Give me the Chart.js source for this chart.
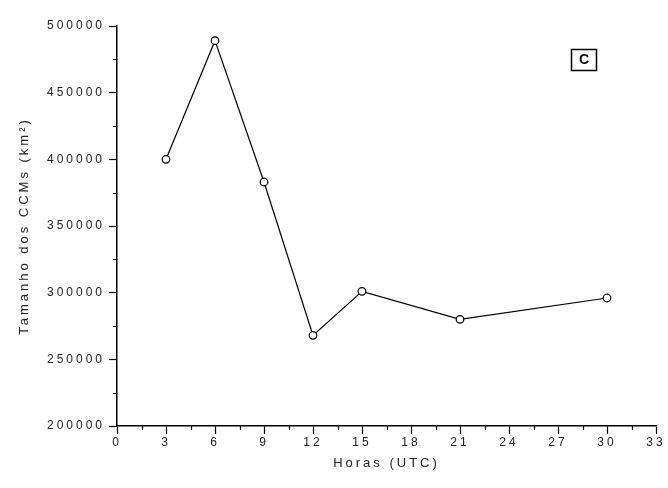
<!DOCTYPE html>
<html>
<head>
<meta charset="utf-8">
<script src="https://cdn.jsdelivr.net/npm/chart.js@4.4.0/dist/chart.umd.min.js"></script>
<style>
  html, body { margin: 0; padding: 0; background: #fff; }
  canvas { display: block; }
</style>
</head>
<body>
<canvas id="grafico" width="668" height="488"></canvas>
<script>
// dados
const horas = [3, 6, 9, 12, 15, 21, 30];
const tamanho = [400000, 489000, 383000, 268000, 301000, 280000, 296000];
const rotuloPainel = 'C';

const ESPACO = '3px';

const espacamento = {
    id: 'espacamento',
    beforeUpdate(chart) { chart.ctx.letterSpacing = ESPACO; },
    beforeLayout(chart) { chart.ctx.letterSpacing = ESPACO; },
    beforeDraw(chart) { chart.ctx.letterSpacing = ESPACO; }
};

// ticks menores + caixa com a letra do painel
const extras = {
    id: 'extras',
    afterDraw(chart) {
        const ctx = chart.ctx;
        const xs = chart.scales.x;
        const ys = chart.scales.y;
        const area = chart.chartArea;
        ctx.save();
        ctx.strokeStyle = '#000';
        ctx.lineWidth = 1.2;
        ctx.beginPath();
        for (let v = 1.5; v < 33; v += 3) {
            const px = Math.round(xs.getPixelForValue(v)) + 0.5;
            ctx.moveTo(px, area.bottom);
            ctx.lineTo(px, area.bottom + 4);
        }
        for (let v = 225000; v < 500000; v += 50000) {
            const py = Math.round(ys.getPixelForValue(v)) + 0.5;
            ctx.moveTo(area.left, py);
            ctx.lineTo(area.left - 4, py);
        }
        ctx.stroke();

        // caixa "C"
        ctx.letterSpacing = '0px';
        ctx.lineWidth = 1.5;
        ctx.strokeRect(571.5, 49.5, 25, 21);
        ctx.fillStyle = '#000';
        ctx.font = 'bold 14px "Liberation Sans", Arial, sans-serif';
        ctx.textAlign = 'center';
        ctx.textBaseline = 'middle';
        ctx.fillText(rotuloPainel, 584, 60.5);
        ctx.restore();
    }
};

const fonteTick = { family: '"Liberation Sans", Arial, sans-serif', size: 12 };
const fonteTitulo = { family: '"Liberation Sans", Arial, sans-serif', size: 13 };

new Chart(document.getElementById('grafico').getContext('2d'), {
    type: 'scatter',
    data: {
        datasets: [{
            data: horas.map((h, i) => ({ x: h, y: tamanho[i] })),
            showLine: true,
            borderColor: '#000',
            borderWidth: 1.2,
            pointRadius: 3.8,
            pointBorderWidth: 1.2,
            pointBorderColor: '#000',
            pointBackgroundColor: '#fff',
            tension: 0
        }]
    },
    options: {
        responsive: false,
        animation: false,
        devicePixelRatio: 1,
        layout: { padding: { top: 26, right: 12, left: 0, bottom: 0 } },
        plugins: {
            legend: { display: false },
            tooltip: { enabled: false }
        },
        scales: {
            x: {
                type: 'linear',
                min: 0,
                max: 33,
                afterFit(scale) { scale.height = 62; },
                border: { display: true, color: '#000', width: 1.5 },
                grid: { display: true, drawOnChartArea: false, drawTicks: true, tickLength: 8, tickColor: '#000', tickWidth: 1.2 },
                ticks: { stepSize: 3, color: '#222', font: fonteTick, padding: 1, maxRotation: 0 },
                title: { display: true, text: 'Horas (UTC)', color: '#222', font: fonteTitulo, padding: { top: 4, bottom: 17 } }
            },
            y: {
                type: 'linear',
                min: 200000,
                max: 500000,
                afterFit(scale) { scale.width = 117; },
                border: { display: true, color: '#000', width: 1.5 },
                grid: { display: true, drawOnChartArea: false, drawTicks: true, tickLength: 8, tickColor: '#000', tickWidth: 1.2 },
                ticks: { stepSize: 50000, color: '#222', font: fonteTick, padding: 4, callback: v => String(v) },
                title: { display: true, text: 'Tamanho dos CCMs (km²)', color: '#222', font: fonteTitulo, padding: { top: 17, bottom: 0 } }
            }
        }
    },
    plugins: [espacamento, extras]
});
</script>
</body>
</html>
